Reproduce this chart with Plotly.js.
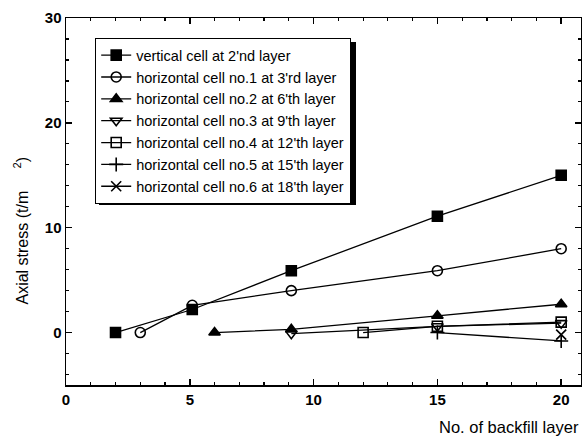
<!DOCTYPE html>
<html>
<head>
<meta charset="utf-8">
<script src="https://cdn.plot.ly/plotly-3.0.1.min.js"></script>
<style>html,body{margin:0;padding:0;background:#fff;}#chart{width:582px;height:448px;}</style>
</head>
<body>
<div id="chart"></div>
<script>
// Data
const names = [
  "vertical cell at 2'nd layer",
  "horizontal cell no.1 at 3'rd layer",
  "horizontal cell no.2 at 6'th layer",
  "horizontal cell no.3 at 9'th layer",
  "horizontal cell no.4 at 12'th layer",
  "horizontal cell no.5 at 15'th layer",
  "horizontal cell no.6 at 18'th layer"
];
const x1 = [2, 5.1, 9.1, 15, 20];   const y1 = [0, 2.2, 5.9, 11.1, 15.0];
const x2 = [3, 5.1, 9.1, 15, 20];   const y2 = [0, 2.6, 4.0, 5.9, 8.0];
const x3 = [6, 9.1, 15, 20];        const y3 = [0, 0.3, 1.6, 2.7];
const x4 = [9.1, 15, 20];           const y4 = [-0.1, 0.6, 0.9];
const x5 = [12, 15, 20];            const y5 = [0, 0.6, 1.0];
const x6 = [15, 20];                const y6 = [0, -0.8];
const x7 = [20];                    const y7 = [-0.2];
const xTicks = [0, 5, 10, 15, 20];
const yTicks = [0, 10, 20, 30];

const symbols = ['square', 'circle-open', 'triangle-up', 'triangle-down-open', 'square-open', 'cross-thin-open', 'x-thin-open'];
const xs = [x1, x2, x3, x4, x5, x6, x7];
const ys = [y1, y2, y3, y4, y5, y6, y7];

const FONT = 'Liberation Sans, Arial, sans-serif';

const traces = xs.map((xv, i) => ({
  x: xv, y: ys[i], name: names[i], type: 'scatter', mode: 'lines+markers',
  line: {color: '#000', width: 1.3},
  marker: {symbol: symbols[i], size: 10, color: '#000', line: {color: '#000', width: 1.6}}
}));

const axisCommon = {
  showline: true, linecolor: '#000', linewidth: 1.5, mirror: 'ticks',
  ticks: 'inside', ticklen: 6, tickwidth: 1.5, tickcolor: '#000',
  showgrid: false, zeroline: false,
  tickfont: {family: FONT, size: 15, color: '#000', weight: 'bold'}
};

const L = 66, R = 1, T = 18, B = 63, W = 582, H = 448;
const pw = W - L - R, ph = H - T - B;
const px2x = p => (p - L) / pw;
const px2y = p => (T + ph - p) / ph;

const layout = {
  width: W, height: H,
  margin: {l: L, r: R, t: T, b: B},
  paper_bgcolor: '#fff', plot_bgcolor: '#fff',
  showlegend: true,
  xaxis: Object.assign({}, axisCommon, {
    range: [0, 20.8], tickvals: xTicks, ticktext: xTicks.map(String),
    minor: {ticks: 'inside', ticklen: 3, tickwidth: 1.2, tickcolor: '#000', dtick: 1, tick0: 0}
  }),
  yaxis: Object.assign({}, axisCommon, {
    range: [-5, 30], tickvals: yTicks, ticktext: yTicks.map(String),
    minor: {ticks: 'inside', ticklen: 3, tickwidth: 1.2, tickcolor: '#000', dtick: 2, tick0: 0}
  }),
  legend: {
    x: px2x(95), y: px2y(38), xanchor: 'left', yanchor: 'top',
    bgcolor: '#fff', bordercolor: '#000', borderwidth: 1.2,
    font: {family: FONT, size: 14.5, color: '#000'},
    tracegroupgap: 0
  },
  shapes: [{
    type: 'rect', xref: 'paper', yref: 'paper', layer: 'above',
    x0: px2x(99), x1: px2x(356), y0: px2y(205), y1: px2y(42),
    fillcolor: '#000', line: {width: 0}
  }],
  annotations: [
    {text: 'No. of backfill layer', xref: 'paper', yref: 'paper', x: 1, y: -0.085,
     xanchor: 'right', yanchor: 'top', showarrow: false,
     font: {family: FONT, size: 16.5, color: '#000'}},
    {text: 'Axial stress (t/m&#160;&#160;&#160;&#160;&#160;<sup>2</sup>)', xref: 'paper', yref: 'paper', x: -0.088, y: 0.42,
     xanchor: 'center', yanchor: 'middle', textangle: -90, showarrow: false,
     font: {family: FONT, size: 16, color: '#000'}}
  ]
};

Plotly.newPlot('chart', traces, layout, {displayModeBar: false, staticPlot: true});
</script>
</body>
</html>
